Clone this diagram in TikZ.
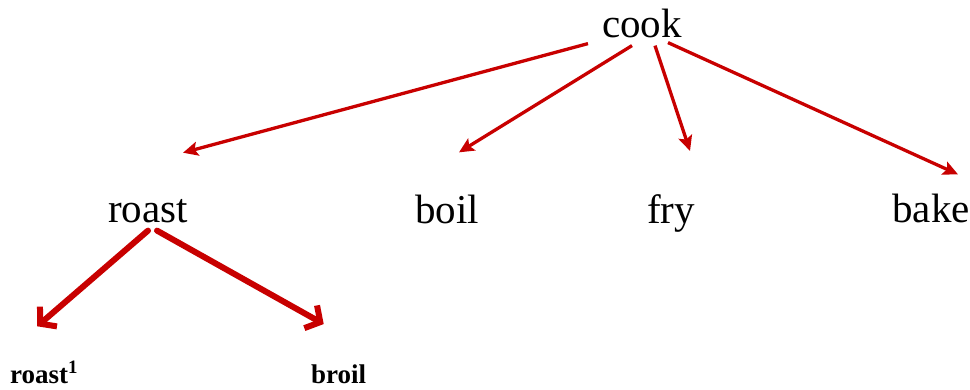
\documentclass[tikz,border=0pt]{standalone}
\usepackage{fontspec}
\setmainfont{Liberation Serif}
\usetikzlibrary{arrows.meta,calc}
\definecolor{arrred}{RGB}{200,0,0}
\tikzset{
  word/.style={inner sep=0pt, anchor=base, font=\fontsize{41}{44}\selectfont},
  small/.style={inner sep=0pt, anchor=base west, font=\fontsize{27}{29}\selectfont\bfseries},
  thinarr/.style={draw=arrred, line width=3.3pt, -{Stealth[length=15pt,width=14pt,inset=3pt]}},
  thickarr/.style={draw=arrred, line width=6pt, line cap=round, -{Straight Barb[length=11pt,width=26pt,line width=6pt]}},
}
\begin{document}
\begin{tikzpicture}[x=1pt,y=-1pt]
\useasboundingbox (0,0) rectangle (970,389);
\node[word] (cook) at (642,37) {cook};
\node[word] (roast) at (148,222) {roast};
\node[word] (boil) at (447,223) {boil};
\node[word] (fry) at (671,223) {fry};
\node[word] (bake) at (931,222) {bake};
\node[small] (roast1) at (10,383) {roast\textsuperscript{1}};
\node[small] (broil) at (311,383) {broil};

\draw[thinarr] ([shift={(-54,6)}]cook.south) -- ([shift={(35,-46)}]roast.north);
\draw[thinarr] ([shift={(-10,8)}]cook.south) -- ([shift={(12,-42)}]boil.north);
\draw[thinarr] ([shift={(13,8)}]cook.south) -- ([shift={(19,-43)}]fry.north);
\draw[thinarr] ([shift={(26,5)}]cook.south) -- ([shift={(27,-19)}]bake.north);
\draw[thickarr] ([shift={(0,8)}]roast.south) -- ([shift={(-7,-35)}]roast1.north);
\draw[thickarr] ([shift={(9,8)}]roast.south) -- ([shift={(-15,-40)}]broil.north);
\end{tikzpicture}
\end{document}
